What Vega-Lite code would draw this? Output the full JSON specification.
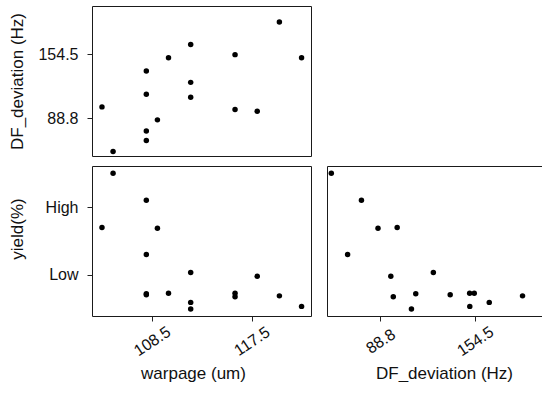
{
  "$schema": "https://vega.github.io/schema/vega-lite/v6.json",
  "padding": {"left": 7, "top": 5, "right": 0, "bottom": 0},
  "background": "white",
  "config": {
    "font": "Liberation Sans",
    "view": {"stroke": "#1a1a1a", "strokeWidth": 1},
    "axis": {
      "grid": false,
      "domain": false,
      "tickColor": "#222",
      "tickSize": 5,
      "labelColor": "#111",
      "titleColor": "#111",
      "labelFontSize": 16,
      "titleFontSize": 17,
      "titleFontWeight": "normal"
    },
    "point": {"filled": true, "color": "#000", "size": 30, "opacity": 1}
  },
  "data": {
    "values": [
      {"warpage": 104, "DF_deviation": 100.5, "yield": 1.70},
      {"warpage": 105, "DF_deviation": 54.8, "yield": 2.50},
      {"warpage": 108, "DF_deviation": 137.3, "yield": 0.706},
      {"warpage": 108, "DF_deviation": 113.4, "yield": 0.72},
      {"warpage": 109, "DF_deviation": 87.2, "yield": 1.687},
      {"warpage": 108, "DF_deviation": 75.7, "yield": 2.10},
      {"warpage": 108, "DF_deviation": 66.1, "yield": 1.30},
      {"warpage": 110, "DF_deviation": 150.8, "yield": 0.73},
      {"warpage": 112, "DF_deviation": 164.4, "yield": 0.594},
      {"warpage": 112, "DF_deviation": 125.6, "yield": 1.035},
      {"warpage": 112, "DF_deviation": 110.4, "yield": 0.496},
      {"warpage": 116, "DF_deviation": 154.0, "yield": 0.73},
      {"warpage": 116, "DF_deviation": 97.8, "yield": 0.676},
      {"warpage": 118, "DF_deviation": 96.1, "yield": 0.98},
      {"warpage": 120, "DF_deviation": 187.5, "yield": 0.69},
      {"warpage": 122, "DF_deviation": 150.9, "yield": 0.535}
    ]
  },
  "spacing": 8,
  "vconcat": [
    {
      "width": 219,
      "height": 150,
      "mark": {"type": "point"},
      "encoding": {
        "x": {"field": "warpage", "type": "quantitative", "scale": {"domain": [103.1, 122.85], "nice": false, "zero": false}, "axis": null},
        "y": {"field": "DF_deviation", "type": "quantitative", "scale": {"domain": [50.2, 203.8], "nice": false, "zero": false},
          "axis": {"values": [88.8, 154.5], "format": ".1f", "title": "DF_deviation (Hz)", "labelPadding": 9, "minExtent": 60, "maxExtent": 60, "titlePadding": 6}}
      }
    },
    {
      "spacing": 14,
      "hconcat": [
        {
          "width": 219,
          "height": 150,
          "mark": {"type": "point"},
          "encoding": {
            "x": {"field": "warpage", "type": "quantitative", "scale": {"domain": [103.1, 122.85], "nice": false, "zero": false},
              "axis": {"values": [108.5, 117.5], "format": ".1f", "title": "warpage (um)", "labelAngle": -34, "labelAlign": "center", "labelBaseline": "middle", "labelPadding": 20, "labelDx": 4, "minExtent": 45, "maxExtent": 45, "titlePadding": 4, "titleX": 101}},
            "y": {"field": "yield", "type": "quantitative", "scale": {"domain": [0.393, 2.606], "nice": false, "zero": false},
              "axis": {"values": [1, 2], "labelExpr": "datum.value == 2 ? 'High' : 'Low'", "title": "yield(%)", "labelPadding": 9, "minExtent": 60, "maxExtent": 60, "titlePadding": 6, "titleY": 62.5}}
          }
        },
        {
          "width": 216,
          "height": 150,
          "mark": {"type": "point"},
          "encoding": {
            "x": {"field": "DF_deviation", "type": "quantitative", "scale": {"domain": [51.8, 201.7], "nice": false, "zero": false},
              "axis": {"values": [88.8, 154.5], "format": ".1f", "title": "DF_deviation (Hz)", "labelAngle": -34, "labelAlign": "center", "labelBaseline": "middle", "labelPadding": 20, "labelDx": 2, "minExtent": 45, "maxExtent": 45, "titlePadding": 4, "titleX": 117}},
            "y": {"field": "yield", "type": "quantitative", "scale": {"domain": [0.393, 2.606], "nice": false, "zero": false}, "axis": null}
          }
        }
      ]
    }
  ]
}
